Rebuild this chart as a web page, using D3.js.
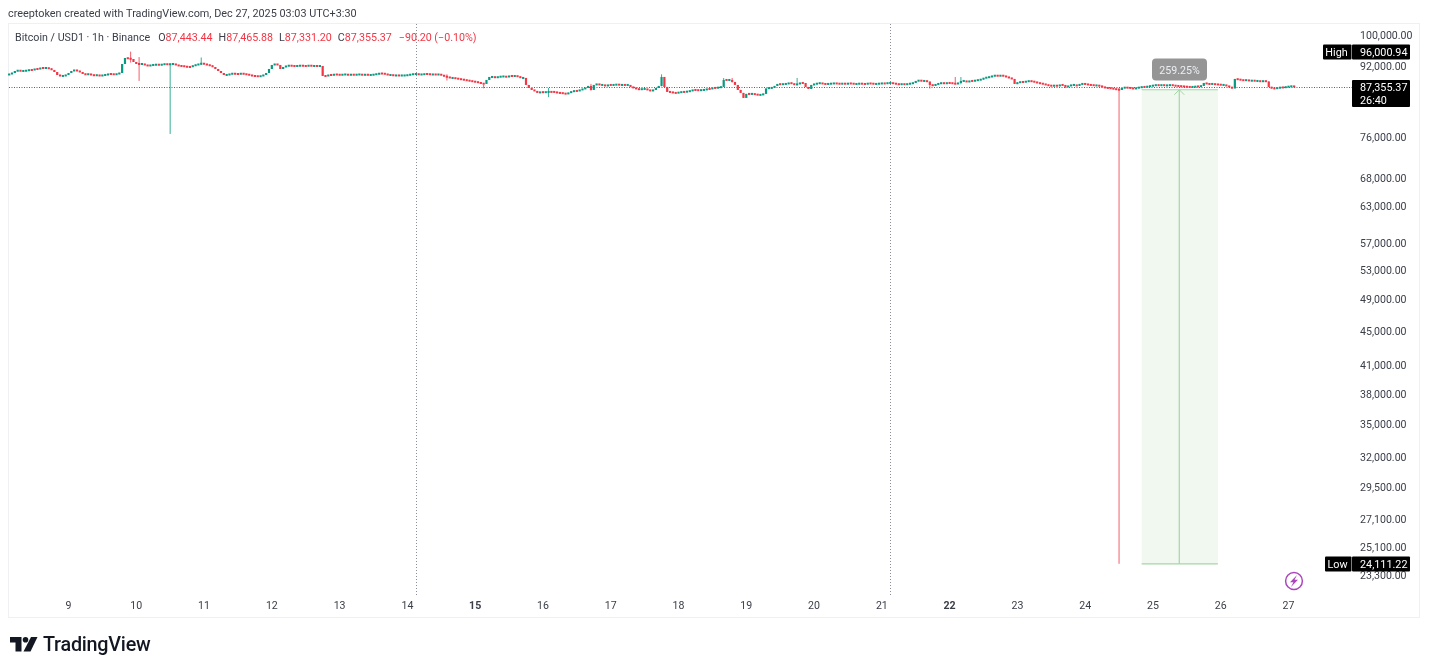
<!DOCTYPE html>
<html>
<head>
<meta charset="utf-8">
<title>Bitcoin / USD1</title>
<script src="https://d3js.org/d3.v7.min.js"></script>
<style>
  html, body { margin: 0; padding: 0; background: #fff; }
  svg { display: block; font-family: Roboto, "Liberation Sans", sans-serif; filter: blur(0.35px); }
</style>
</head>
<body>
<svg id="chart" width="1429" height="671"></svg>
<script>
// hourly closes, one per candle, open is the close before it
var closes = [
  90380,90625,91115,91240,91115,91120,91240,91365,91360,91610,
  91600,91855,91850,91860,91730,91365,90870,90140,89900,89910,
  90140,90625,91115,91365,91115,90870,90380,90260,90380,90140,
  90020,90140,89900,90130,90150,90380,90370,90260,90380,90625,
  92855,94365,94240,94110,93355,92855,92850,92860,92605,92355,
  92600,92610,92730,92605,92735,92855,92730,92850,92860,92605,
  92355,92350,92230,92105,92100,92480,92605,92855,92980,92855,
  92605,92480,92105,91610,91115,90625,90140,90150,90380,90500,
  90380,90370,90500,90380,90260,90140,89900,89890,89780,89900,
  90140,90625,91610,92605,92855,92605,91610,92105,92355,92480,
  92355,92350,92360,92480,92355,92345,92480,92355,92360,92350,
  92355,89900,89890,90140,90130,90260,90250,90140,90260,90270,
  90140,90260,90150,90260,90270,90140,90250,90140,90150,90260,
  90380,90500,90490,90380,90140,90140,90020,90030,90020,90020,
  90020,90140,90260,90370,90380,90260,90270,90380,90370,90260,
  90270,90260,90260,90140,89780,89660,89420,89420,89300,89180,
  89060,88940,88820,88700,88580,88460,88340,88100,87985,88940,
  89660,89660,89540,89660,89780,89780,89660,89900,89890,89900,
  89780,89420,89420,87750,87045,86575,86345,85885,86115,86000,
  86110,86120,86115,86110,85885,85880,85770,85655,85885,86230,
  86345,86340,86575,86810,87045,87515,86575,87750,87985,87750,
  87755,87515,87750,87745,87760,87870,87750,87755,87745,87750,
  87280,87045,86810,86690,86810,86815,86575,86345,86575,87045,
  87515,89660,87280,86115,86110,85885,85880,86000,86115,86110,
  86230,86345,86575,86570,86460,86575,86580,86810,86805,87045,
  87040,87160,87280,88940,88935,88945,88460,87750,86575,85885,
  84735,85655,85650,85660,85540,85425,85430,85655,86930,87045,
  87050,87515,87985,87870,87980,87990,88220,88100,87750,87985,
  88220,88215,87280,86810,87750,87985,88100,88220,87985,87980,
  87990,88100,88110,88100,87985,88100,87990,88105,88100,87980,
  87985,88100,87990,87985,88105,88100,87985,87990,88100,88110,
  88100,88220,88220,88100,87985,87870,87985,87870,87985,88100,
  88220,88700,88820,88700,88705,88580,87750,87630,87870,88100,
  88220,88100,88220,88215,88100,87985,88220,88700,88705,88460,
  88700,88695,88820,88940,89060,89420,89540,89660,89900,90020,
  89900,90020,89900,89660,89420,89180,87985,88340,88460,88455,
  88580,88700,88580,88460,88220,88100,87985,87750,87630,87515,
  87630,87510,87750,87745,87280,87515,87750,87755,87515,87985,
  87990,87980,87750,87745,87630,87635,87515,87280,87045,87040,
  86930,86810,86690,86575,87045,87160,87050,87040,86810,87045,
  87160,87280,87275,87400,87515,87630,87750,87635,87745,87630,
  87640,87750,87630,87515,87510,87400,87395,87280,87275,87285,
  87400,87395,87515,88220,87985,87980,87990,87870,87865,87750,
  87755,87515,87280,86930,89180,89060,88940,88820,88945,88700,
  88820,88695,88705,88580,88700,88585,87280,86930,86925,87045,
  87160,87155,87280,87400,87443.44,87355.37
];
var firstOpen = 90140;

// only the wicks that stick out of the bodies
var wickCandles = [43, 46, 57, 68, 155, 168, 191, 206, 231, 253, 256, 279, 326, 335, 337, 374, 393, 455];
var wickHighs = [96000.94, 94600, 92900, 94500, 90300, 87800, 87050, 88000, 90300, 89400, 89420, 89420, 88200, 89650, 89650, 87750, 87050, 87465.88];
var wickLows = [93200, 88700, 76880, 92600, 88800, 86950, 84900, 86400, 87400, 87400, 88300, 87900, 86900, 88000, 87900, 87000, 24111.22, 87331.20];

var dayLabels = [9, 10, 11, 12, 13, 14, 15, 16, 17, 18, 19, 20, 21, 22, 23, 24, 25, 26, 27];
var dayCandles = [21, 45, 69, 93, 117, 141, 165, 189, 213, 237, 261, 285, 309, 333, 357, 381, 405, 429, 453];
var boldDays = [15, 22];
var sessionBreaks = [144, 312];

var priceTicks = [100000, 92000, 76000, 68000, 63000, 57000, 53000, 49000, 45000, 41000, 38000, 35000, 32000, 29500, 27100, 25100, 23300];
var highPrice = 96000.94;
var lowPrice = 24111.22;
var lastPrice = 87355.37;
var countdown = "26:40";

// long position tool
var measureCandles = [401, 428];
var measurePrices = [86618, 24111.22];
var measureLabel = "259.25%";

var legendParts = ["O87,443.44", "H87,465.88", "L87,331.20", "C87,355.37", "\u221290.20 (\u22120.10%)"];

var up = "#089981", down = "#f23645", textColor = "#3a3e49";
var svg = d3.select("#chart");

var x = d3.scaleLinear().domain([21, 453]).range([68.5, 1288.5]);
var y = d3.scaleLog().domain([100000, 23300]).range([36.5, 576.5]);
var fmt = d3.format(",.2f");

var candles = closes.map(function(c, i) {
  var o = i == 0 ? firstOpen : closes[i - 1];
  var w = wickCandles.indexOf(i);
  return {
    i: i, o: o, c: c,
    h: w >= 0 ? wickHighs[w] : Math.max(o, c),
    l: w >= 0 ? wickLows[w] : Math.min(o, c)
  };
});

// header line above the pane
svg.append("text").attr("x", 8).attr("y", 17).attr("font-size", 10.85).attr("fill", textColor)
  .text("creeptoken created with TradingView.com, Dec 27, 2025 03:03 UTC+3:30");

// pane frame
svg.append("rect").attr("x", 8.5).attr("y", 23.5).attr("width", 1411).attr("height", 594)
  .attr("fill", "#fff").attr("stroke", "#eef0f4");

// session breaks
svg.selectAll(".session").data(sessionBreaks).enter().append("line")
  .attr("x1", function(d) { return Math.round(x(d)) + 0.5; })
  .attr("x2", function(d) { return Math.round(x(d)) + 0.5; })
  .attr("y1", 24).attr("y2", 595)
  .attr("stroke", "#8a8e98").attr("stroke-dasharray", "1,2");

// measure box sits under the candles
var mx0 = x(measureCandles[0]), mx1 = x(measureCandles[1]);
var my0 = y(measurePrices[0]), my1 = y(measurePrices[1]);
var measure = svg.append("g");
measure.append("rect").attr("x", mx0).attr("y", my0).attr("width", mx1 - mx0).attr("height", my1 - my0)
  .attr("fill", "#4caf50").attr("fill-opacity", 0.085);
measure.selectAll(".edge").data([my0, my1]).enter().append("line")
  .attr("x1", mx0).attr("x2", mx1)
  .attr("y1", function(d) { return d; }).attr("y2", function(d) { return d; })
  .attr("stroke", "#a5d6a7").attr("stroke-width", 1.2);
measure.append("line").attr("x1", (mx0 + mx1) / 2 - 0.5).attr("x2", (mx0 + mx1) / 2 - 0.5)
  .attr("y1", my0).attr("y2", my1).attr("stroke", "#a5d6a7").attr("stroke-width", 1.2);
measure.append("path")
  .attr("d", d3.line()([[(mx0 + mx1) / 2 - 5.5, my0 + 5], [(mx0 + mx1) / 2 - 0.5, my0], [(mx0 + mx1) / 2 + 4.5, my0 + 5]]))
  .attr("fill", "none").attr("stroke", "#a5d6a7");

// last price line
svg.append("line").attr("x1", 9).attr("x2", 1352)
  .attr("y1", Math.round(y(lastPrice)) + 0.5).attr("y2", Math.round(y(lastPrice)) + 0.5)
  .attr("stroke", "#5d606b").attr("stroke-dasharray", "1,1.5");

// candles
var candleG = svg.append("g");
candleG.selectAll(".wick").data(candles.filter(function(d) { return d.h != d.l; })).enter().append("line")
  .attr("x1", function(d) { return x(d.i); })
  .attr("x2", function(d) { return x(d.i); })
  .attr("y1", function(d) { return y(d.h); })
  .attr("y2", function(d) { return y(d.l); })
  .attr("stroke", function(d) { return d.c >= d.o ? up : down; })
  .attr("stroke-opacity", 0.8)
  .attr("stroke-width", 1);
candleG.selectAll(".body").data(candles).enter().append("rect")
  .attr("x", function(d) { return x(d.i) - 1.1; })
  .attr("width", 2.2)
  .attr("y", function(d) {
    var h = Math.abs(y(d.o) - y(d.c));
    return (y(d.o) + y(d.c)) / 2 - Math.max(2, h) / 2;
  })
  .attr("height", function(d) { return Math.max(2, Math.abs(y(d.o) - y(d.c))); })
  .attr("fill", function(d) { return d.c >= d.o ? up : down; });

// measure label
svg.append("rect").attr("x", 1152).attr("y", 58.5).attr("width", 55).attr("height", 22).attr("rx", 4)
  .attr("fill", "#959595");
svg.append("text").attr("x", 1179.5).attr("y", 73.5).attr("text-anchor", "middle")
  .attr("font-size", 10.6).attr("fill", "#eceff2").text(measureLabel);

// legend
var legend = svg.append("text").attr("x", 15).attr("y", 41).attr("font-size", 10.7).attr("fill", textColor);
legend.append("tspan").text("Bitcoin / USD1 \u00b7 1h \u00b7 Binance");
legendParts.forEach(function(p, n) {
  if (n < 4) {
    legend.append("tspan").attr("dx", n == 0 ? 8 : 6).text(p.charAt(0));
    legend.append("tspan").attr("fill", down).text(p.slice(1));
  } else {
    legend.append("tspan").attr("dx", 7).attr("fill", down).text(p);
  }
});

// axes
var yAxis = svg.append("g").attr("transform", "translate(1360,-1.5)")
  .call(d3.axisRight(y).tickValues(priceTicks).tickFormat(fmt).tickSize(0).tickPadding(0));
yAxis.select(".domain").remove();
yAxis.selectAll("text").attr("text-anchor", "start").attr("font-size", 10.6)
  .attr("font-family", "Roboto, sans-serif").attr("fill", textColor);

var xAxis = svg.append("g").attr("transform", "translate(0,595)")
  .call(d3.axisBottom(x).tickValues(dayCandles)
    .tickFormat(function(d) { return dayLabels[dayCandles.indexOf(d)]; })
    .tickSize(0).tickPadding(6));
xAxis.select(".domain").remove();
xAxis.selectAll("text").attr("font-size", 10.6).attr("font-family", "Roboto, sans-serif")
  .attr("fill", textColor)
  .attr("transform", "translate(-0.5,0)")
  .attr("font-weight", function(d) {
    return boldDays.indexOf(dayLabels[dayCandles.indexOf(d)]) >= 0 ? 700 : 400;
  });

// black price boxes on the right
function priceTag(title, price, extra) {
  var cy = Math.round(y(price));
  var g = svg.append("g").attr("font-size", 10.8).attr("fill", "#fff");
  if (title) {
    var tw = title == "High" ? 29 : 27;
    g.append("rect").attr("x", 1352 - tw).attr("y", cy - 7.5).attr("width", tw - 0.5).attr("height", 15)
      .attr("rx", 1).attr("fill", "#000");
    g.append("text").attr("x", 1351 - tw / 2).attr("y", cy + 3.5).attr("text-anchor", "middle").text(title);
  }
  g.append("rect").attr("x", 1352).attr("y", extra ? cy - 7 : cy - 7.5).attr("width", 58)
    .attr("height", extra ? 27 : 15).attr("rx", 1).attr("fill", "#000");
  g.append("text").attr("x", 1360).attr("y", cy + 3.5).text(fmt(price));
  if (extra) {
    g.append("text").attr("x", 1360).attr("y", cy + 16.5).text(extra);
  }
}
priceTag("High", highPrice);
priceTag(null, lastPrice, countdown);
priceTag("Low", lowPrice);

// purple bolt badge
svg.append("circle").attr("cx", 1294).attr("cy", 581).attr("r", 8.4)
  .attr("fill", "#fff").attr("stroke", "#ab47bc").attr("stroke-width", 1.5);
svg.append("path").attr("d", "M1297 575 L1290 582.2 L1293.4 582.2 L1291 587 L1298 579.8 L1294.6 579.8 Z")
  .attr("fill", "#ab47bc");

// logo
var logo = svg.append("g").attr("fill", "#131722");
logo.append("path").attr("d", "M10 637 H21.5 V651.5 H15.5 V642.5 H10 Z");
logo.append("circle").attr("cx", 25.5).attr("cy", 639.8).attr("r", 2.8);
logo.append("path").attr("d", "M31 637 H37.5 L30.5 651.5 H23.5 Z");
svg.append("text").attr("x", 43).attr("y", 651).attr("font-size", 19.8).attr("font-weight", 500)
  .attr("fill", "#131722").attr("letter-spacing", "-0.25").text("TradingView");
</script>
</body>
</html>
